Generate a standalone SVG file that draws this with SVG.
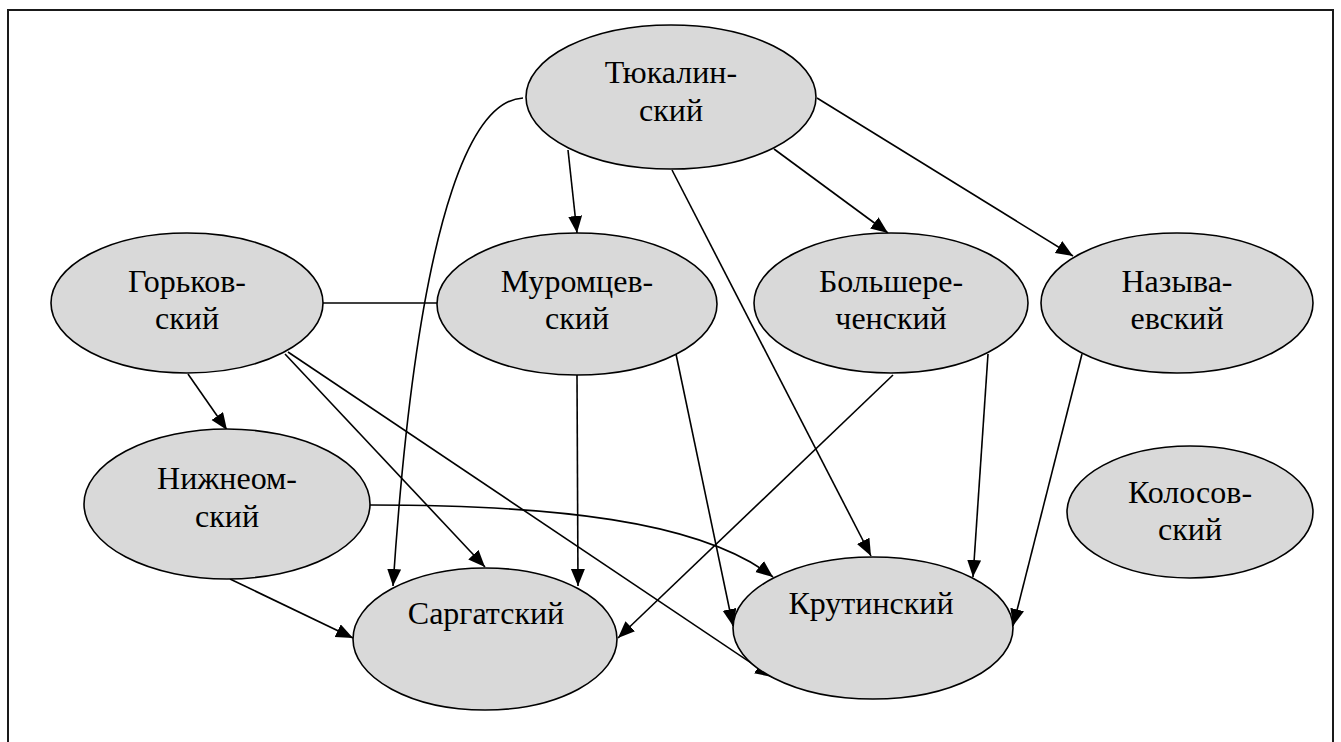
<svg xmlns="http://www.w3.org/2000/svg" width="1341" height="742" viewBox="0 0 1341 742">
  <style>
    .frame { fill: none; stroke: #1a1a1a; stroke-width: 2; }
    .node ellipse { fill: #d9d9d9; stroke: #000; stroke-width: 1.6; }
    .node text { font-family: 'Liberation Serif', 'Times New Roman', serif; font-size: 32px; fill: #000; text-anchor: middle; }
    .edge { fill: none; stroke: #000; stroke-width: 1.6; }
    .arrow { marker-end: url(#head); }
  </style>
  <defs>
    <!-- filled triangular arrowhead shared by all directed links -->
    <marker id="head" markerUnits="userSpaceOnUse" markerWidth="20" markerHeight="16" refX="17" refY="7" orient="auto">
      <path d="M0,0 L17,7 L0,14 z" fill="#000"/>
    </marker>
  </defs>

  <rect width="1341" height="742" fill="#fff"/>
  <!-- open-bottom frame -->
  <path class="frame" d="M8,742 V10 H1333 V742"/>

  <!-- links between districts -->
  <g id="connectors">
    <path class="edge arrow" d="M523,98 C480,100 420,180 393,586"/>
    <path class="edge arrow" d="M568,150 L577,233"/>
    <path class="edge arrow" d="M672,170 L871,556"/>
    <path class="edge arrow" d="M774,149 L888,233"/>
    <path class="edge arrow" d="M817,98 L1073,256"/>
    <path class="edge" d="M323,303 L437,303"/>
    <path class="edge arrow" d="M188,374 L227,430"/>
    <path class="edge arrow" d="M285,354 L485,567"/>
    <path class="edge arrow" d="M288,352 L772,677"/>
    <path class="edge arrow" d="M370,505 C550,505 700,520 773,577"/>
    <path class="edge arrow" d="M230,579 L353,638"/>
    <path class="edge arrow" d="M577,375 L578,586"/>
    <path class="edge arrow" d="M676,354 L733,626"/>
    <path class="edge arrow" d="M893,375 L618,638"/>
    <path class="edge arrow" d="M988,354 L973,577"/>
    <path class="edge arrow" d="M1082,354 L1013,626"/>
  </g>

  <!-- districts -->
  <g id="tyukalinsky" class="node">
    <ellipse cx="671" cy="97" rx="145" ry="72"/>
    <text x="671" y="83">Тюкалин-</text>
    <text x="671" y="121">ский</text>
  </g>
  <g id="gorkovsky" class="node">
    <ellipse cx="187" cy="303" rx="136" ry="70"/>
    <text x="187" y="292">Горьков-</text>
    <text x="187" y="329">ский</text>
  </g>
  <g id="muromtsevsky" class="node">
    <ellipse cx="577" cy="304" rx="140" ry="71"/>
    <text x="577" y="292">Муромцев-</text>
    <text x="577" y="329">ский</text>
  </g>
  <g id="bolsherechensky" class="node">
    <ellipse cx="891" cy="303" rx="137" ry="70"/>
    <text x="891" y="292">Большере-</text>
    <text x="891" y="329">ченский</text>
  </g>
  <g id="nazyvaevsky" class="node">
    <ellipse cx="1177" cy="303" rx="136" ry="70"/>
    <text x="1177" y="292">Называ-</text>
    <text x="1177" y="329">евский</text>
  </g>
  <g id="nizhneomsky" class="node">
    <ellipse cx="227" cy="504" rx="143" ry="75"/>
    <text x="227" y="489">Нижнеом-</text>
    <text x="227" y="527">ский</text>
  </g>
  <g id="kolosovsky" class="node">
    <ellipse cx="1190" cy="512" rx="123" ry="66"/>
    <text x="1190" y="503">Колосов-</text>
    <text x="1190" y="540">ский</text>
  </g>
  <g id="sargatsky" class="node">
    <ellipse cx="485" cy="639" rx="132" ry="71"/>
    <text x="486" y="624">Саргатский</text>
  </g>
  <g id="krutinsky" class="node">
    <ellipse cx="873" cy="628" rx="140" ry="71"/>
    <text x="871" y="614">Крутинский</text>
  </g>
</svg>
